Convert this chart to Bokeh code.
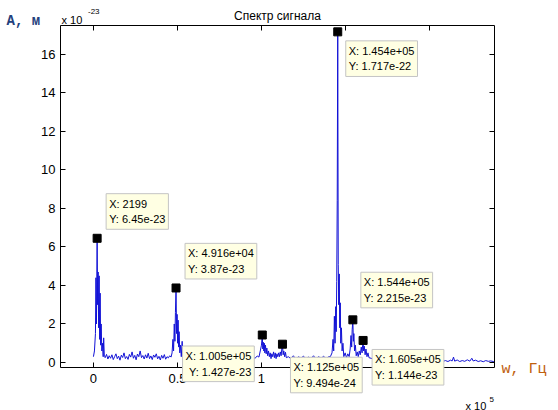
from bokeh.plotting import figure
from bokeh.models import Label, LinearAxis, Range1d, FixedTicker
from bokeh.embed import file_html
from bokeh.resources import INLINE

# ---------------- data (Hz, amplitude in units of 1e-23 m) ----------------
freq = [0, 600, 1200, 1500, 1800, 2199, 2500, 2800, 3100, 3400, 3700, 4000, 4300, 4600, 5000, 5400, 5800, 6100, 6500,
        7000, 7800, 8600, 9400, 10200, 11000, 11800, 12600, 13400, 14200, 15000, 15800, 16600, 17400, 18200, 19000,
        19800, 20600, 21400, 22200, 23000, 23800, 24600, 25400, 26200, 27000, 27800, 28600, 29400, 30200, 31000,
        31800, 32600, 33400, 34200, 35000, 35800, 36600, 37400, 38200, 39000, 39800, 40600, 41400, 42200, 43000,
        43800, 44600, 45400, 46200,
        46800, 47300, 47700, 48100, 48500, 48800, 49160, 49500, 49800, 50100, 50400, 50700, 51000, 51400, 51800,
        52300, 52800, 53300, 53900, 54500,
        55500, 57000, 58500, 60000, 61500, 63000, 64500, 66000, 67500, 69000, 70500, 72000, 73500, 75000, 76500,
        78000, 79500, 81000, 82500, 84000, 85500, 87000, 88500, 90000, 91500, 93000, 94500, 96000, 97500, 98500,
        99300,
        100000, 100500, 100800, 101100, 101400, 101700, 102000, 102400, 102800, 103200, 103700, 104200, 104700,
        105200, 105700, 106200, 106700, 107200, 107700, 108200, 108700, 109200, 109700, 110200, 110700, 111200,
        111700, 112100, 112500, 112900, 113300, 113800, 114300, 114800,
        116000, 117500, 119000, 120500, 122000, 123500, 125000, 126500, 128000, 129500, 131000, 132500, 134000,
        135500, 137000, 138500, 140000,
        141000, 142000, 142600, 143000, 143400, 143800, 144200, 144500, 144800, 145100, 145400, 145700, 146000,
        146300, 146600, 146900, 147200, 147600, 148000, 148500, 149000, 149800, 150600, 151400, 152200, 152800,
        153300, 153700, 154000, 154400, 154700, 155000, 155400, 155900, 156400, 157000, 157600, 158200, 158800,
        159400, 159900, 160200, 160500, 160800, 161200, 161700, 162200, 162800, 163400, 164000,
        166000, 168000, 170000, 172000, 174000, 176000, 178000, 180000, 182000, 184000, 186000, 188000, 190000,
        192000, 194000, 196000, 198000, 200000, 202000, 204000, 206000,
        208000, 209500, 211000, 212500, 213500, 214300, 215000, 216500, 218000, 219500, 221000, 222500, 224000,
        225200, 226000, 227500, 229000, 230500, 232000, 233500, 235000, 236500, 238000, 238600]

amp = [0.3, 0.6, 1.5, 4.4, 2.0, 6.45, 3.0, 4.7, 1.8, 4.5, 1.2, 3.6, 0.9, 2.0, 0.6, 1.0, 0.3, 1.28, 0.3,
       0.25, 0.42, 0.18, 0.35, 0.22, 0.4, 0.15, 0.3, 0.45, 0.2, 0.33, 0.12, 0.38, 0.26, 0.5, 0.2,
       0.31, 0.16, 0.42, 0.28, 0.55, 0.22, 0.37, 0.14, 0.44, 0.3, 0.6, 0.25, 0.36, 0.18, 0.4,
       0.23, 0.48, 0.2, 0.34, 0.15, 0.39, 0.27, 0.45, 0.19, 0.32, 0.13, 0.37, 0.22, 0.41, 0.17,
       0.3, 0.24, 0.35, 0.28,
       0.5, 1.2, 0.6, 2.0, 1.1, 2.6, 3.87, 1.5, 2.5, 1.0, 2.2, 0.8, 1.6, 0.5, 0.9,
       0.3, 1.1, 0.35, 0.5, 0.25,
       0.3, 0.2, 0.38, 0.22, 0.34, 0.18, 0.4, 0.25, 0.31, 0.15, 0.36, 0.21, 0.42, 0.2, 0.3,
       0.17, 0.35, 0.24, 0.39, 0.19, 0.33, 0.22, 0.37, 0.16, 0.3, 0.25, 0.41, 0.2, 0.34, 0.28,
       0.6,
       0.9, 1.427, 0.7, 1.05, 0.6, 1.0, 0.5, 0.9, 0.45, 0.75, 0.35, 0.6, 0.3,
       0.5, 0.2, 0.45, 0.3, 0.55, 0.25, 0.5, 0.2, 0.45, 0.3, 0.5, 0.3, 0.55,
       0.35, 0.7, 0.9494, 0.4, 0.6, 0.3, 0.53, 0.25,
       0.3, 0.2, 0.35, 0.15, 0.3, 0.22, 0.33, 0.18, 0.28, 0.2, 0.35, 0.17, 0.3,
       0.22, 0.32, 0.2, 0.3,
       0.3, 0.5, 1.2, 0.6, 2.4, 1.0, 2.9, 1.6, 4.2, 8.4, 17.17, 5.1, 3.0,
       4.6, 1.8, 3.1, 1.0, 1.8, 0.6, 1.0, 0.3, 0.5, 0.25, 0.45, 0.3, 0.7,
       1.4, 0.8, 1.7, 2.215, 1.1, 1.5, 0.6, 0.9, 0.35, 0.55, 0.3, 0.6, 0.4,
       0.8, 0.5, 0.9, 1.144, 0.6, 0.85, 0.4, 0.7, 0.3, 0.5, 0.25,
       0.2, 0.15, 0.22, 0.12, 0.18, 0.1, 0.15, 0.09, 0.14, 0.08, 0.12, 0.1, 0.07,
       0.13, 0.08, 0.11, 0.06, 0.1, 0.07, 0.12, 0.08,
       0.06, 0.1, 0.05, 0.12, 0.08, 0.28, 0.07, 0.13, 0.05, 0.1, 0.06, 0.14, 0.07,
       0.22, 0.08, 0.12, 0.05, 0.09, 0.04, 0.1, 0.06, 0.08, 0.05, 0.06]

tip_x = [2199, 49160, 100500, 112500, 145400, 154400, 160500]
tip_y = [6.45, 3.87, 1.427, 0.9494, 17.17, 2.215, 1.144]
tip_xtext = ["2199", "4.916e+04", "1.005e+05", "1.125e+05", "1.454e+05", "1.544e+05", "1.605e+05"]
tip_ytext = ["6.45e-23", "3.87e-23", "1.427e-23", "9.494e-24", "1.717e-22", "2.215e-23", "1.144e-23"]

x_ticks = [0, 50000, 100000, 150000, 200000]
x_tick_labels = ["0", "0.5", "1"]          # the labels 1.5 and 2 are hidden in the reference
y_ticks = [0, 2, 4, 6, 8, 10, 12, 14, 16]

title_text = "Спектр сигнала"
ylabel_text = "А, м"
xlabel_text = "w, Гц"

# ---------------- layout ----------------
W, H = 558, 410
FL, FR, FT, FB = 60, 494, 25, 367   # edges of the plotting box in page pixels
XMIN, XMAX = -19600, 238700          # axis limits
YMIN, YMAX = -0.26, 17.5

def dx(px):
    return XMIN + (px - FL) / (FR - FL) * (XMAX - XMIN)

def dy(py):
    return YMAX - (py - FT) / (FB - FT) * (YMAX - YMIN)

# the frame covers the whole canvas; the visible box is drawn by four bounded axes
p = figure(width=W, height=H, output_backend="svg", toolbar_location=None,
           x_range=Range1d(dx(0), dx(W)), y_range=Range1d(dy(H), dy(0)),
           x_axis_location=None, y_axis_location=None,
           min_border_left=0, min_border_right=0, min_border_top=0, min_border_bottom=0)
p.grid.visible = False
p.outline_line_color = None
p.background_fill_color = "white"
p.border_fill_color = "white"

FONT = "Liberation Sans"

def make_axis(pos, loc, bounds, major, minor, labels=None):
    ax = LinearAxis(ticker=FixedTicker(ticks=major, minor_ticks=minor),
                    fixed_location=loc, bounds=bounds)
    ax.major_tick_in = 5
    ax.major_tick_out = 0
    ax.minor_tick_in = 5
    ax.minor_tick_out = 0
    ax.axis_line_color = "black"
    ax.axis_line_width = 1
    ax.major_tick_line_color = "black"
    ax.minor_tick_line_color = "black"
    ax.major_label_text_font = FONT
    ax.major_label_text_font_size = "13px"
    ax.major_label_text_color = "black"
    ax.major_label_standoff = 6 if pos == "below" else 5
    if labels is not None:
        ax.major_label_overrides = {t: l for t, l in zip(major, labels)}
    p.add_layout(ax, pos)
    return ax

n_lab = len(x_tick_labels)
make_axis("below", YMIN, (XMIN, XMAX), x_ticks[:n_lab], x_ticks[n_lab:], x_tick_labels)
make_axis("above", YMAX, (XMIN, XMAX), [], x_ticks)
make_axis("left", XMIN, (YMIN, YMAX), y_ticks, [])
make_axis("right", XMAX, (YMIN, YMAX), [], y_ticks)

p.line(freq, amp, line_color="#1212d6", line_width=1)
p.scatter(tip_x, tip_y, marker="square", size=8, fill_color="black", line_color="black")

# datatip boxes: (horizontal side, vertical side, x gap, y gap)
tip_place = [("r", "a", 6, 5), ("r", "a", 6, 5), ("l", "b", 5, 7), ("r", "b", 5, 9),
             ("r", "b", 5, 5), ("r", "a", 5, 8), ("r", "b", 6, 5)]
PADX, PADY = 3, 4
for x, y, xt, yt, (hs, vs, gx, gy) in zip(tip_x, tip_y, tip_xtext, tip_ytext, tip_place):
    p.add_layout(Label(x=x, y=y, text=f"X: {xt}\nY: {yt}",
                       x_offset=(gx + PADX) if hs == "r" else -(gx + PADX),
                       y_offset=(gy + PADY) if vs == "a" else -(gy + PADY),
                       text_align="left" if hs == "r" else "right",
                       text_baseline="bottom" if vs == "a" else "top",
                       text_font=FONT, text_font_size="11px", text_color="black",
                       text_line_height=1.3,
                       background_fill_color="#ffffe3", background_fill_alpha=1.0,
                       border_line_color="#c4c4c4", border_line_width=1,
                       padding=(PADX, PADY)))

def outer_text(px, py, text, size, font=FONT, color="black", style="normal", align="left"):
    p.add_layout(Label(x=dx(px), y=dy(py), text=text, text_align=align,
                       text_baseline="alphabetic", text_font=font, text_font_size=size,
                       text_font_style=style, text_color=color))

outer_text(277, 15, title_text, "12px", align="center")
outer_text(61, 19, "x 10", "11px")
outer_text(87.5, 10.5, "-23", "8px")
outer_text(465, 405, "x 10", "11px")
outer_text(489, 398.5, "5", "8px")
outer_text(6, 20, ylabel_text, "14px", font="Liberation Mono", color="#23407c", style="bold")
outer_text(501, 369, xlabel_text, "15px", font="Liberation Mono", color="#c0600e")

open("out.html", "w").write(file_html(p, INLINE))
